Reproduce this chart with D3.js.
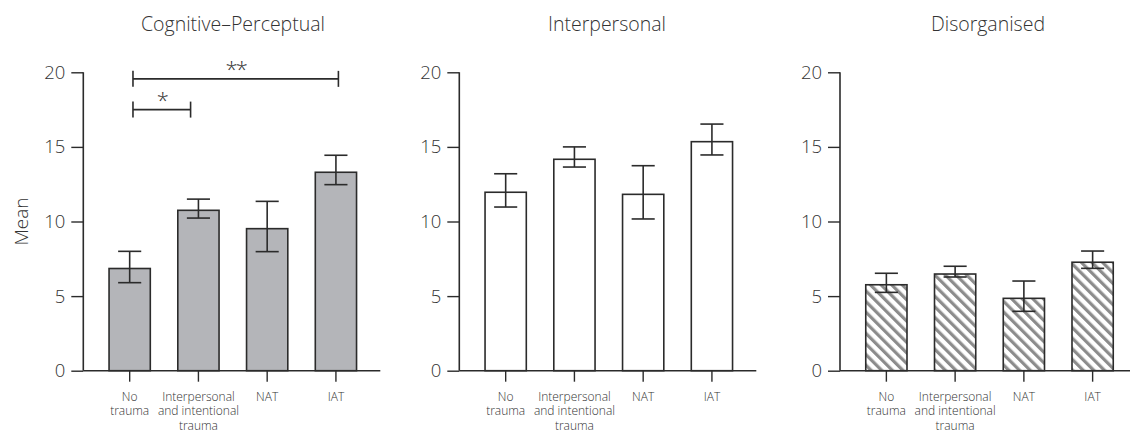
<!DOCTYPE html>
<html lang="en">
<head>
<meta charset="utf-8">
<title>Schizotypy means by trauma group</title>
<script src="https://cdn.jsdelivr.net/npm/d3@7"></script>
<style>
  body { margin: 0; background: #fff; }
  svg text { font-family: "Open Sans", Lato, sans-serif; font-weight: 300; fill: #333; }
</style>
</head>
<body>
<script>
// categories and panel titles
var groups = ["No trauma", "Interpersonal and intentional trauma", "NAT", "IAT"];
var groupLabels = [["No", "trauma"], ["Interpersonal", "and intentional", "trauma"], ["NAT"], ["IAT"]];
var panelTitles = ["Cognitive\u2013Perceptual", "Interpersonal", "Disorganised"];
var yTicks = [0, 5, 10, 15, 20];

// means, upper and lower error limits for each panel
var cogMean = [6.85, 10.75, 9.52, 13.3];
var cogHi   = [8.0, 11.5, 11.35, 14.44];
var cogLo   = [5.9, 10.23, 7.98, 12.47];

var intMean = [11.96, 14.17, 11.82, 15.35];
var intHi   = [13.2, 15.0, 13.74, 16.53];
var intLo   = [10.97, 13.65, 10.17, 14.46];

var disMean = [5.76, 6.48, 4.85, 7.27];
var disHi   = [6.53, 7.0, 6.01, 8.02];
var disLo   = [5.25, 6.28, 3.98, 6.86];

// significance brackets on the first panel (y level, ends given as band fraction)
var sigFrom  = ["No trauma", "No trauma"];
var sigTo    = ["IAT", "Interpersonal and intentional trauma"];
var sigFromF = [0.58, 0.58];
var sigToF   = [0.56, 0.31];
var sigLevel = [19.56, 17.5];
var sigText  = ["**", "*"];

var w = 1130, h = 434;
var svg = d3.select("body").append("svg").attr("width", w).attr("height", h);

// hatch pattern for the third panel
var defs = svg.append("defs");
var pat = defs.append("pattern")
    .attr("id", "hatch")
    .attr("patternUnits", "userSpaceOnUse")
    .attr("width", 7.5).attr("height", 7.5)
    .attr("patternTransform", "rotate(-45)");
pat.append("rect").attr("width", 7.5).attr("height", 7.5).attr("fill", "#fff");
pat.append("rect").attr("x", 0).attr("width", 3.2).attr("height", 7.5).attr("fill", "#8c8c8c");

var y = d3.scaleLinear().domain([0, 20]).range([370.7, 72.3]);

var panels = [
  { mean: cogMean, hi: cogHi, lo: cogLo, fill: "#b4b5b9", axisX: 83.3, titleX: 233 },
  { mean: intMean, hi: intHi, lo: intLo, fill: "#fff", axisX: 459.3, titleX: 607 },
  { mean: disMean, hi: disHi, lo: disLo, fill: "url(#hatch)", axisX: 840, titleX: 988 }
];

var ink = "#2b2b2b";

panels.forEach(function(p, pi) {
  var g = svg.append("g");
  var x = d3.scaleBand()
      .domain(groups)
      .range([p.axisX + 12, p.axisX + 287])
      .paddingInner(0.4)
      .paddingOuter(0.2);
  var bw = x.bandwidth();

  // title
  g.append("text")
    .attr("x", p.titleX)
    .attr("y", 30.5)
    .attr("text-anchor", "middle")
    .style("font-size", "19.5px")
    .text(panelTitles[pi]);

  // bars
  g.selectAll("rect.bar")
    .data(groups)
    .enter().append("rect")
    .attr("class", "bar")
    .attr("x", function(d) { return x(d); })
    .attr("y", function(d, i) { return y(p.mean[i]); })
    .attr("width", bw)
    .attr("height", function(d, i) { return y(0) - y(p.mean[i]); })
    .attr("fill", p.fill)
    .attr("stroke", ink)
    .attr("stroke-width", 1.6);

  // error bars
  var eb = g.selectAll("g.err").data(groups).enter().append("g").attr("class", "err");
  eb.append("line")
    .attr("x1", function(d) { return x(d) + bw / 2; })
    .attr("x2", function(d) { return x(d) + bw / 2; })
    .attr("y1", function(d, i) { return y(p.hi[i]); })
    .attr("y2", function(d, i) { return y(p.lo[i]); });
  eb.append("line")
    .attr("x1", function(d) { return x(d) + bw * 0.22; })
    .attr("x2", function(d) { return x(d) + bw * 0.78; })
    .attr("y1", function(d, i) { return y(p.hi[i]); })
    .attr("y2", function(d, i) { return y(p.hi[i]); });
  eb.append("line")
    .attr("x1", function(d) { return x(d) + bw * 0.22; })
    .attr("x2", function(d) { return x(d) + bw * 0.78; })
    .attr("y1", function(d, i) { return y(p.lo[i]); })
    .attr("y2", function(d, i) { return y(p.lo[i]); });
  eb.selectAll("line").attr("stroke", ink).attr("stroke-width", 1.6);

  // y axis
  var ya = g.append("g")
    .attr("transform", "translate(" + p.axisX + ",0)")
    .call(d3.axisLeft(y).tickValues(yTicks).tickSize(12).tickPadding(6));
  ya.select(".domain").remove();
  ya.append("line").attr("x1", 0).attr("x2", 0)
    .attr("y1", y(20)).attr("y2", y(0))
    .attr("stroke", ink).attr("stroke-width", 1.6);
  ya.selectAll(".tick line").attr("stroke", ink).attr("stroke-width", 1.4);
  ya.selectAll(".tick text")
    .style("font-size", "18.5px")
    .style("font-family", "'Open Sans', Lato, sans-serif")
    .style("font-weight", 300)
    .attr("fill", "#333");

  // x axis
  var xa = g.append("g")
    .attr("transform", "translate(0," + y(0) + ")");
  xa.append("line").attr("x1", p.axisX).attr("x2", Math.min(p.axisX + 297, w))
    .attr("stroke", ink).attr("stroke-width", 1.6);
  var xt = xa.selectAll("g.xt").data(groups).enter().append("g")
    .attr("transform", function(d) { return "translate(" + (x(d) + bw / 2) + ",0)"; });
  xt.append("line").attr("y1", 0).attr("y2", 11)
    .attr("stroke", ink).attr("stroke-width", 1.4);
  xt.each(function(d, i) {
    var t = d3.select(this).append("text")
      .attr("text-anchor", "middle")
      .style("font-size", "12px");
    groupLabels[i].forEach(function(line, k) {
      t.append("tspan").attr("x", 0).attr("y", 30 + k * 14.8).text(line);
    });
  });

  if (pi === 0) {
    // y label
    g.append("text")
      .attr("transform", "translate(28," + y(10) + ") rotate(-90)")
      .attr("text-anchor", "middle")
      .style("font-size", "19px")
      .text("Mean");

    // significance brackets
    sigText.forEach(function(s, k) {
      var x1 = x(sigFrom[k]) + bw * sigFromF[k];
      var x2 = x(sigTo[k]) + bw * sigToF[k];
      var yy = y(sigLevel[k]);
      var b = g.append("g").attr("stroke", ink).attr("stroke-width", 1.6);
      b.append("line").attr("x1", x1).attr("x2", x2).attr("y1", yy).attr("y2", yy);
      b.append("line").attr("x1", x1).attr("x2", x1).attr("y1", yy - 8).attr("y2", yy + 8);
      b.append("line").attr("x1", x2).attr("x2", x2).attr("y1", yy - 8).attr("y2", yy + 8);
      g.append("text")
        .attr("x", (x1 + x2) / 2)
        .attr("y", yy - 2)
        .attr("text-anchor", "middle")
        .style("font-size", "22px")
        .style("letter-spacing", "-2px")
        .text(s);
    });
  }
});
</script>
</body>
</html>
